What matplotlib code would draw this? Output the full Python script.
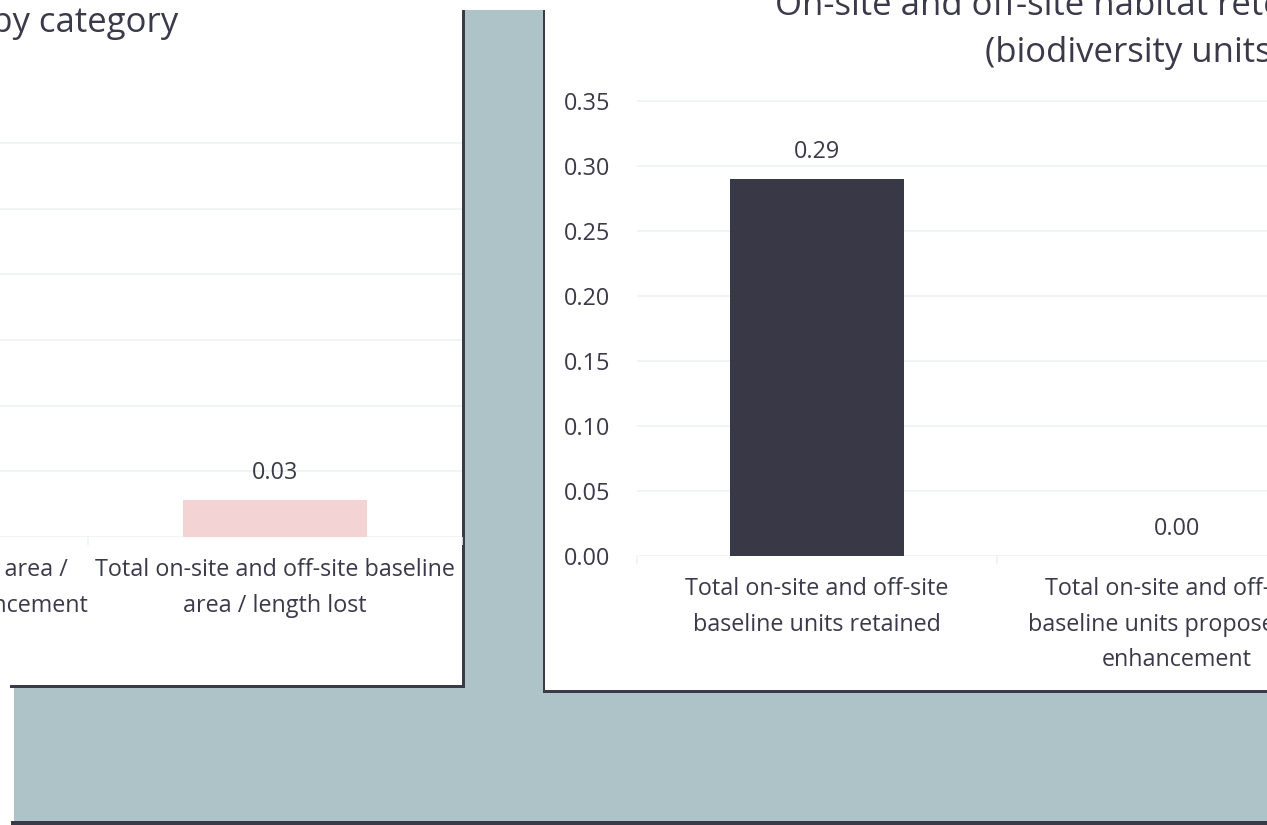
import matplotlib
matplotlib.use("Agg")
import matplotlib.pyplot as plt
from matplotlib.patches import Rectangle

# ---------------- data ----------------
left_categories = ["Total on-site and off-site area /\nlength proposed for enhancement",
                   "Total on-site and off-site baseline\narea / length lost"]
left_values = [0.0, 0.028]
left_labels = ["0.00", "0.03"]

right_categories = ["Total on-site and off-site\nbaseline units retained",
                    "Total on-site and off-site\nbaseline units proposed for\nenhancement"]
right_values = [0.29, 0.0]
right_labels = ["0.29", "0.00"]
right_ticks = [0.00, 0.05, 0.10, 0.15, 0.20, 0.25, 0.30, 0.35]
left_ticks = [0.00, 0.05, 0.10, 0.15, 0.20, 0.25, 0.30]

left_title = "On-site and off-site habitat change by category"
right_title_1 = "On-site and off-site habitat retention and enhancement"
right_title_2 = "(biodiversity units)"

# ---------------- style ----------------
FONT = "Open Sans"
TXT = "#3b3a4a"
GRAY = "#adc3c8"
BORDER = "#3a3a48"
GRID = "#eff2f2"
DARK_BAR = "#393846"
PINK_BAR = "#f4d3d5"
SMALL = 16.8
BIG = 25

plt.rcParams["font.family"] = [FONT, "DejaVu Sans"]

W, H = 1267, 825
fig = plt.figure(figsize=(W / 100, H / 100), dpi=100)
fig.patch.set_facecolor("white")


def rect(px_left, px_top, px_right, px_bottom):
    return [px_left / W, 1 - px_bottom / H, (px_right - px_left) / W, (px_bottom - px_top) / H]


# background layer in pixel coordinates
bg = fig.add_axes([0, 0, 1, 1])
bg.set_xlim(0, W)
bg.set_ylim(H, 0)
bg.axis("off")
bg.add_patch(Rectangle((14, 10), W - 14, 812, color=GRAY, lw=0))
bg.add_patch(Rectangle((11, 821), W - 11, 4, color=BORDER, lw=0))
# left panel
bg.add_patch(Rectangle((0, 0), 462, 685, color="white", lw=0))
bg.add_patch(Rectangle((462, 10), 2.5, 677.5, color=BORDER, lw=0))
bg.add_patch(Rectangle((10, 685), 454.5, 2.5, color=BORDER, lw=0))
# right panel
bg.add_patch(Rectangle((544, 0), W - 544, 690, color="white", lw=0))
bg.add_patch(Rectangle((0, 0), W, 10, color="white", lw=0))
bg.add_patch(Rectangle((543, 10), 1.6, 682, color=BORDER, lw=0))
bg.add_patch(Rectangle((543, 690), W - 543, 2.5, color=BORDER, lw=0))

# titles
bg.text(178, 32, left_title, ha="right", va="baseline", fontsize=BIG, color=TXT)
bg.text(775, 15, right_title_1, ha="left", va="baseline", fontsize=BIG, color=TXT)
bg.text(985, 62, right_title_2, ha="left", va="baseline", fontsize=BIG, color=TXT)


def style_axes(ax, cats, ticks, ymax):
    ax.set_facecolor("none")
    for s in ax.spines.values():
        s.set_visible(False)
    ax.set_xlim(-0.5, len(cats) - 0.5)
    ax.set_ylim(0, ymax)
    ax.set_yticks(ticks)
    ax.set_yticklabels([f"{t:.2f}" for t in ticks])
    ax.yaxis.grid(True, color=GRID, lw=1.2)
    ax.set_axisbelow(True)
    ax.tick_params(axis="y", length=0, pad=19, labelsize=SMALL, labelcolor=TXT)
    ax.set_xticks(range(len(cats)))
    ax.set_xticklabels(cats, linespacing=1.65)
    ax.tick_params(axis="x", which="major", length=0, pad=15, labelsize=SMALL, labelcolor=TXT)
    ax.set_xticks([i - 0.5 for i in range(len(cats) + 1)], minor=True)
    ax.tick_params(axis="x", which="minor", length=6, color=GRID, width=1.2)


def bar_labels(ax, vals, labels):
    for i, (v, lab) in enumerate(zip(vals, labels)):
        ax.annotate(lab, (i, v), xytext=(0, 19.5), textcoords="offset points",
                    ha="center", va="center", fontsize=SMALL, color=TXT)


# left chart (only partly visible)
axl = fig.add_axes(rect(-286, 537 - 0.33 * 1313, 462, 537))
style_axes(axl, left_categories, left_ticks, 0.33)
axl.bar(range(len(left_values)), left_values, width=0.49, color=PINK_BAR)
bar_labels(axl, left_values, left_labels)
axl.set_yticklabels([])

# right chart
axr = fig.add_axes(rect(637, 556 - 0.36 * 1300, 1357, 556))
style_axes(axr, right_categories, right_ticks, 0.36)
axr.bar(range(len(right_values)), right_values, width=0.485, color=DARK_BAR)
bar_labels(axr, right_values, right_labels)

fig.savefig("out.png", dpi=100, facecolor="white")
